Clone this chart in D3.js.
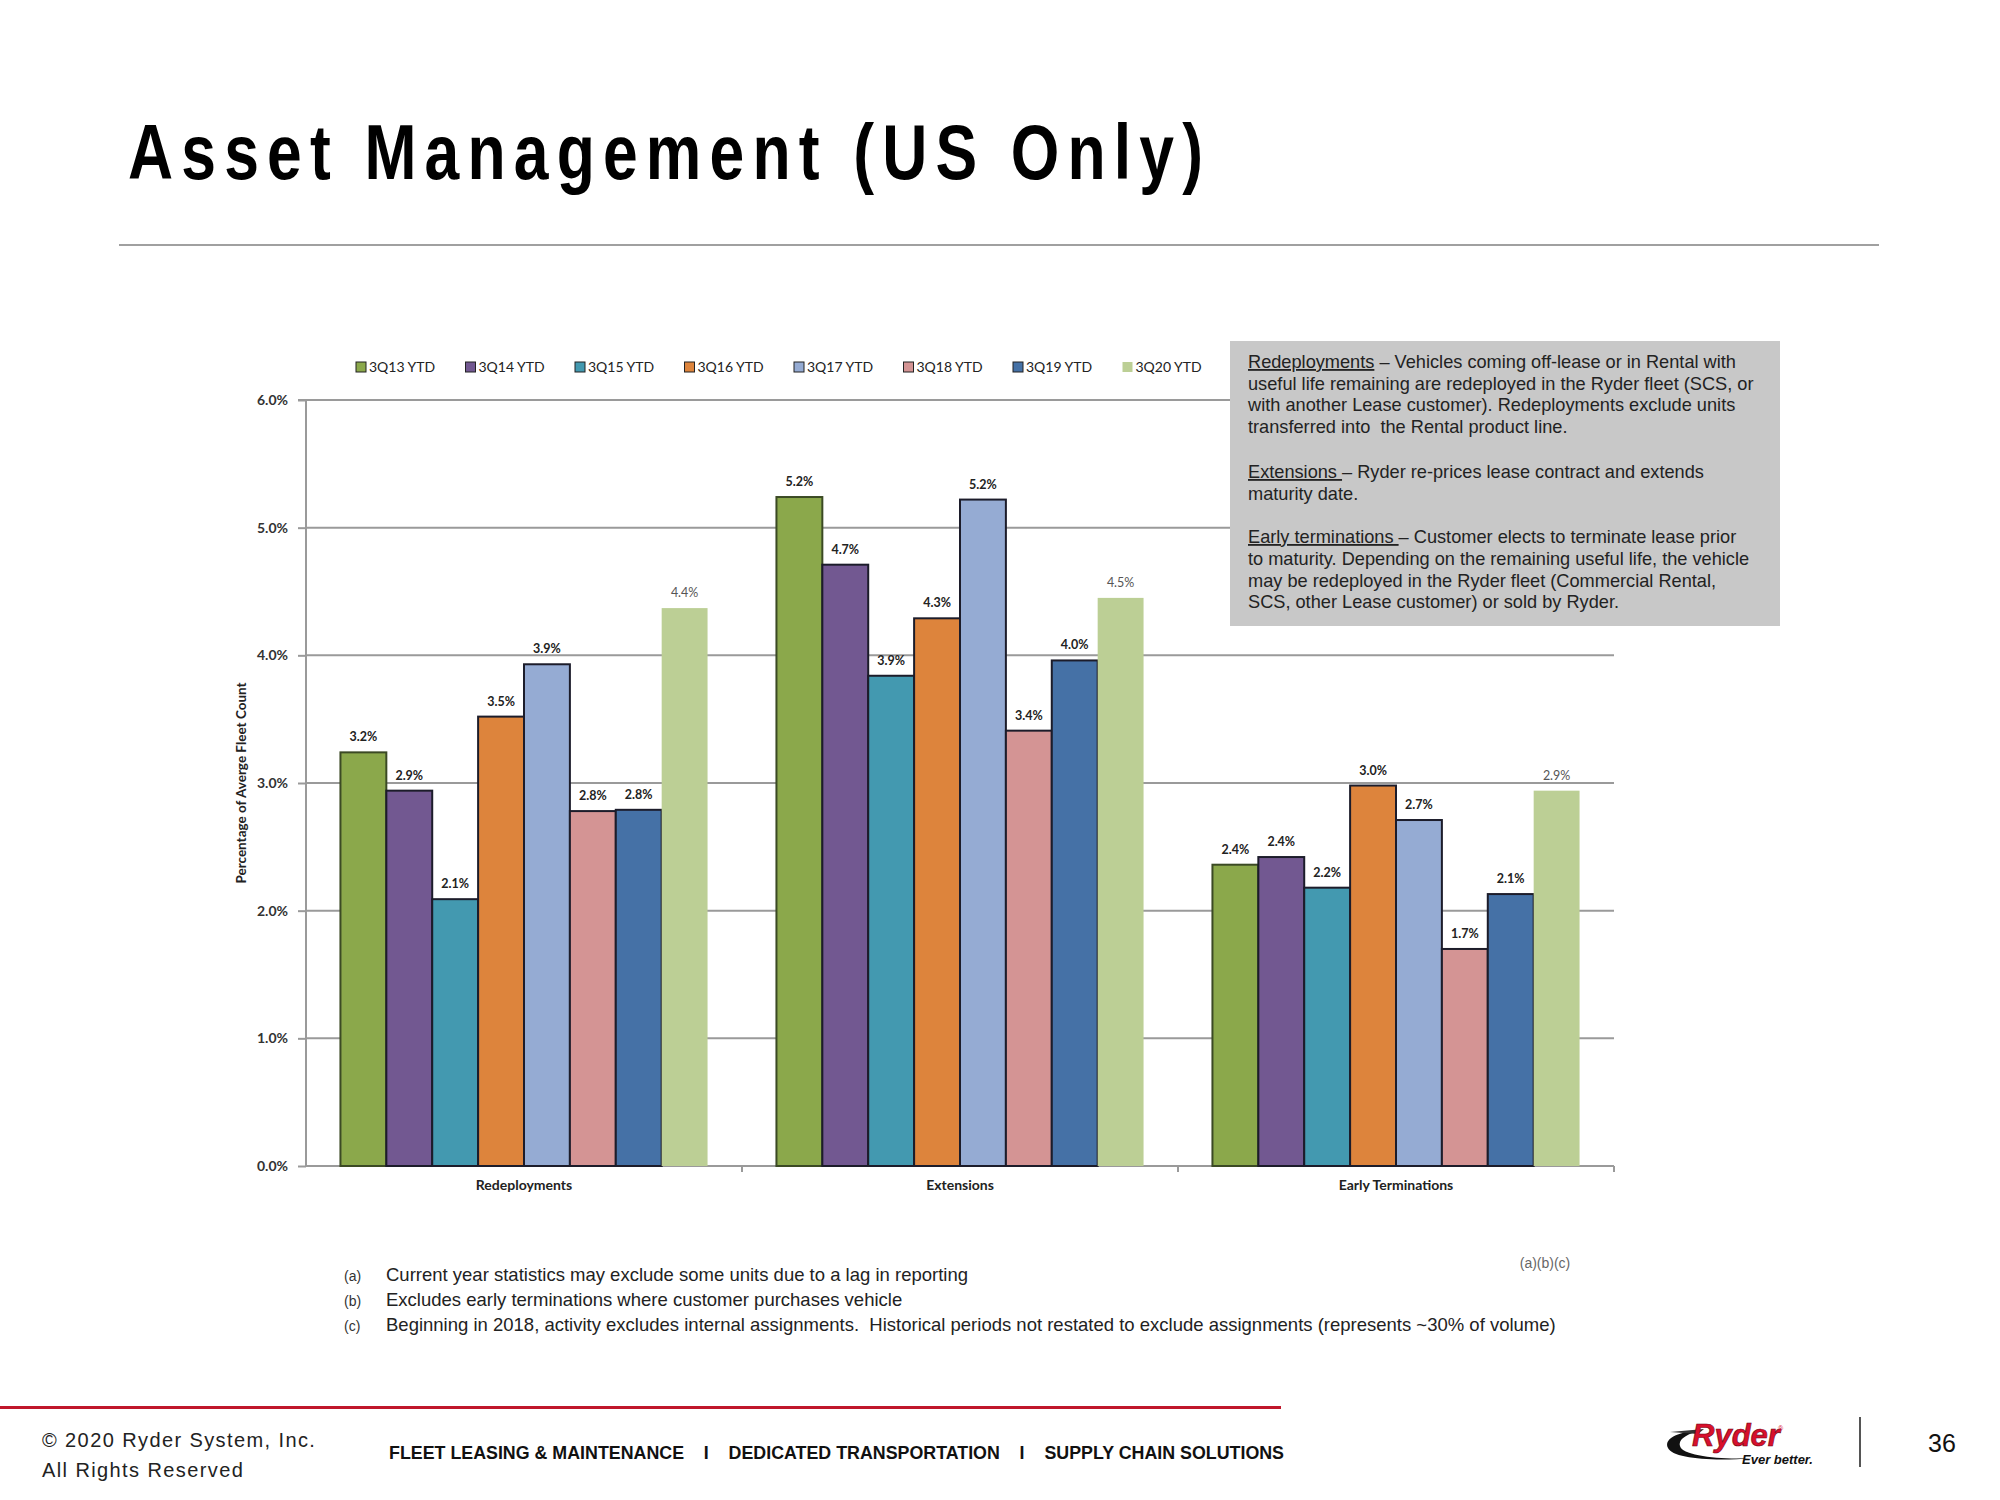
<!DOCTYPE html>
<html>
<head>
<meta charset="utf-8">
<script src="https://cdn.jsdelivr.net/npm/d3@7"></script>
<style>
  html, body { margin: 0; padding: 0; background: #fff; }
  svg { display: block; }
</style>
</head>
<body>
<svg id="chart" width="2000" height="1500"></svg>
<script>
// ---------- DATA ----------
const categories = ["Redeployments", "Extensions", "Early Terminations"];
const seriesNames = ["3Q13 YTD", "3Q14 YTD", "3Q15 YTD", "3Q16 YTD", "3Q17 YTD", "3Q18 YTD", "3Q19 YTD", "3Q20 YTD"];
const seriesColors = ["#8ba84b", "#725891", "#4399b0", "#dd843c", "#95abd3", "#d49494", "#4571a6", "#bccf95"];
// values (%) per series, in category order
const v3Q13 = [3.24, 5.24, 2.36];
const v3Q14 = [2.94, 4.71, 2.42];
const v3Q15 = [2.09, 3.84, 2.18];
const v3Q16 = [3.52, 4.29, 2.98];
const v3Q17 = [3.93, 5.22, 2.71];
const v3Q18 = [2.78, 3.41, 1.70];
const v3Q19 = [2.79, 3.96, 2.13];
const v3Q20 = [4.37, 4.45, 2.94];
// printed data labels
const lab3Q13 = ["3.2%", "5.2%", "2.4%"];
const lab3Q14 = ["2.9%", "4.7%", "2.4%"];
const lab3Q15 = ["2.1%", "3.9%", "2.2%"];
const lab3Q16 = ["3.5%", "4.3%", "3.0%"];
const lab3Q17 = ["3.9%", "5.2%", "2.7%"];
const lab3Q18 = ["2.8%", "3.4%", "1.7%"];
const lab3Q19 = ["2.8%", "4.0%", "2.1%"];
const lab3Q20 = ["4.4%", "4.5%", "2.9%"];
const yTicks = [0, 1, 2, 3, 4, 5, 6];

const allValues = [v3Q13, v3Q14, v3Q15, v3Q16, v3Q17, v3Q18, v3Q19, v3Q20];
const allLabels = [lab3Q13, lab3Q14, lab3Q15, lab3Q16, lab3Q17, lab3Q18, lab3Q19, lab3Q20];

const infoLines = [
  [["Redeployments", true], [" \u2013 Vehicles coming off-lease or in Rental with", false]],
  [["useful life remaining are redeployed in the Ryder fleet (SCS, or", false]],
  [["with another Lease customer). Redeployments exclude units", false]],
  [["transferred into  the Rental product line.", false]],
  null,
  [["Extensions ", true], ["\u2013 Ryder re-prices lease contract and extends", false]],
  [["maturity date.", false]],
  null,
  [["Early terminations ", true], ["\u2013 Customer elects to terminate lease prior", false]],
  [["to maturity. Depending on the remaining useful life, the vehicle", false]],
  [["may be redeployed in the Ryder fleet (Commercial Rental,", false]],
  [["SCS, other Lease customer) or sold by Ryder.", false]]
];
const footnoteKeys = ["(a)", "(b)", "(c)"];
const footnotes = [
  "Current year statistics may exclude some units due to a lag in reporting",
  "Excludes early terminations where customer purchases vehicle",
  "Beginning in 2018, activity excludes internal assignments.  Historical periods not restated to exclude assignments (represents ~30% of volume)"
];

// ---------- DRAW ----------
const svg = d3.select("#chart");
const chartFont = "Lato, 'Open Sans', sans-serif";
const arial = "'Liberation Sans', Arial, sans-serif";

// Title (condensed, letter-spaced)
svg.append("text")
  .attr("transform", "translate(128,179) scale(0.8,1)")
  .attr("x", 0).attr("y", 0)
  .attr("font-family", "'Liberation Sans', Arial, sans-serif")
  .attr("font-weight", "bold").attr("font-size", 78)
  .attr("textLength", 1075 / 0.8).attr("lengthAdjust", "spacing")
  .attr("fill", "#000")
  .text("Asset Management (US Only)");
svg.append("line").attr("x1", 119).attr("x2", 1879).attr("y1", 245).attr("y2", 245)
  .attr("stroke", "#a0a0a0").attr("stroke-width", 2);

// Scales
const plotL = 306, plotR = 1614, plotT = 400, plotB = 1166;
const x0 = d3.scaleBand().domain(categories).range([plotL, plotR]).paddingInner(0.158).paddingOuter(0.079);
const x1 = d3.scaleBand().domain(seriesNames).range([0, x0.bandwidth()]).padding(0);
const y = d3.scaleLinear().domain([0, 6]).range([plotB, plotT]);

// Gridlines
svg.append("g").selectAll("line").data(yTicks.filter(d => d > 0)).join("line")
  .attr("x1", plotL).attr("x2", plotR)
  .attr("y1", d => y(d)).attr("y2", d => y(d))
  .attr("stroke", "#9a9a9a").attr("stroke-width", 2);

// Y axis
const yAxis = d3.axisLeft(y).tickValues(yTicks).tickFormat(d => d.toFixed(1) + "%").tickSize(8).tickPadding(10);
const gy = svg.append("g").attr("transform", `translate(${plotL},0)`).call(yAxis);
gy.select(".domain").attr("stroke", "#9a9a9a").attr("stroke-width", 2).attr("d", `M-8,${plotT}H0V${plotB}`);
gy.selectAll(".tick line").attr("stroke", "#9a9a9a").attr("stroke-width", 2);
gy.selectAll(".tick text").attr("font-family", chartFont).attr("font-weight", "bold")
  .attr("font-size", 14).attr("fill", "#333");

// X axis
const xAxis = d3.axisBottom(x0).tickSize(0).tickPadding(14);
const gx = svg.append("g").attr("transform", `translate(0,${plotB})`).call(xAxis);
gx.select(".domain").attr("stroke", "#9a9a9a").attr("stroke-width", 2).attr("d", `M${plotL},0H${plotR}`);
gx.selectAll(".tick text").attr("font-family", chartFont).attr("font-weight", "bold")
  .attr("font-size", 14).attr("fill", "#222");
// category separator ticks
const seps = categories.map(c => x0(c) + x0.bandwidth() + x0.step() * x0.paddingInner() / 2);
svg.append("g").selectAll("line").data(seps).join("line")
  .attr("x1", d => d).attr("x2", d => d).attr("y1", plotB).attr("y2", plotB + 6)
  .attr("stroke", "#9a9a9a").attr("stroke-width", 2);

// Axis title
svg.append("text")
  .attr("transform", `translate(246,${(plotT + plotB) / 2 + 0}) rotate(-90)`)
  .attr("text-anchor", "middle")
  .attr("font-family", chartFont).attr("font-weight", "bold").attr("font-size", 13.5).attr("fill", "#222")
  .text("Percentage of Averge Fleet Count");

// Bars
const barData = [];
seriesNames.forEach((s, si) => {
  categories.forEach((c, ci) => {
    barData.push({ s, si, c, v: allValues[si][ci], label: allLabels[si][ci] });
  });
});
svg.append("g").selectAll("rect").data(barData).join("rect")
  .attr("x", d => x0(d.c) + x1(d.s))
  .attr("y", d => y(d.v))
  .attr("width", x1.bandwidth())
  .attr("height", d => y(0) - y(d.v))
  .attr("fill", d => seriesColors[d.si])
  .attr("stroke", d => d.si === 7 ? "none" : (d.si === 0 ? "#3b4a24" : "#1c1c2a"))
  .attr("stroke-width", 2);

// Data labels
svg.append("g").selectAll("text").data(barData).join("text")
  .attr("x", d => x0(d.c) + x1(d.s) + x1.bandwidth() / 2)
  .attr("y", d => y(d.v) - 11)
  .attr("text-anchor", "middle")
  .attr("font-family", chartFont)
  .attr("font-weight", d => d.si === 7 ? "normal" : "bold")
  .attr("font-size", 12.5)
  .attr("fill", d => d.si === 7 ? "#555" : "#222")
  .text(d => d.label);

// Legend
const legendX0 = 356, legendStep = 109.5, legendY = 367;
const lg = svg.append("g").selectAll("g").data(seriesNames).join("g")
  .attr("transform", (d, i) => `translate(${legendX0 + i * legendStep},${legendY})`);
lg.append("rect").attr("x", 0).attr("y", -5).attr("width", 10).attr("height", 10)
  .attr("fill", (d, i) => seriesColors[i])
  .attr("stroke", (d, i) => i === 7 ? "none" : "#222").attr("stroke-width", 1);
lg.append("text").attr("x", 13).attr("y", 5)
  .attr("font-family", chartFont).attr("font-size", 14).attr("fill", "#222")
  .text(d => d);

// Info box
svg.append("rect").attr("x", 1230).attr("y", 341).attr("width", 550).attr("height", 285).attr("fill", "#c8c8c8");
const infoBase = [368, 390, 411, 433, null, 478, 500, null, 543, 565, 587, 608];
infoLines.forEach((ln, i) => {
  if (!ln) return;
  const t = svg.append("text").attr("x", 1248).attr("y", infoBase[i])
    .attr("font-family", arial).attr("font-size", 18.2).attr("fill", "#222")
    .attr("xml:space", "preserve");
  ln.forEach(([txt, u]) => {
    const sp = t.append("tspan").text(txt);
    if (u) sp.style("text-decoration", "underline");
  });
});

// Footnotes
svg.append("text").attr("x", 1545).attr("y", 1268).attr("text-anchor", "middle")
  .attr("font-family", arial).attr("font-size", 14).attr("fill", "#666").text("(a)(b)(c)");
const fnY = [1281, 1306, 1331];
footnotes.forEach((f, i) => {
  svg.append("text").attr("x", 344).attr("y", fnY[i])
    .attr("font-family", arial).attr("font-size", 14).attr("fill", "#333").text(footnoteKeys[i]);
  svg.append("text").attr("x", 386).attr("y", fnY[i])
    .attr("font-family", arial).attr("font-size", 18.5).attr("fill", "#222")
    .attr("xml:space", "preserve").text(f);
});

// Footer
svg.append("rect").attr("x", 0).attr("y", 1406).attr("width", 1281).attr("height", 3).attr("fill", "#c0172b");
svg.append("text").attr("x", 42).attr("y", 1447)
  .attr("font-family", arial).attr("font-size", 20).attr("letter-spacing", 1.4).attr("fill", "#222")
  .text("\u00A9 2020 Ryder System, Inc.");
svg.append("text").attr("x", 42).attr("y", 1477)
  .attr("font-family", arial).attr("font-size", 20).attr("letter-spacing", 1.4).attr("fill", "#222")
  .text("All Rights Reserved");
svg.append("text").attr("x", 389).attr("y", 1459)
  .attr("font-family", arial).attr("font-weight", "bold").attr("font-size", 19)
  .attr("textLength", 895).attr("lengthAdjust", "spacingAndGlyphs").attr("fill", "#111")
  .attr("xml:space", "preserve")
  .text("FLEET LEASING & MAINTENANCE    I    DEDICATED TRANSPORTATION    I    SUPPLY CHAIN SOLUTIONS");

// Logo
const logo = svg.append("g").attr("transform", "translate(1662,1418)");
logo.append("path").attr("d", "M40,12 C12,14 2,22 6,30 C10,40 50,44 90,40 C60,42 20,38 18,28 C16,20 28,15 40,12 Z")
  .attr("fill", "#111");
logo.append("path").attr("d", "M8,14 L42,11 L36,16 Z").attr("fill", "#333");
logo.append("text").attr("x", 30).attr("y", 28)
  .attr("font-family", arial).attr("font-weight", "bold").attr("font-style", "italic").attr("font-size", 31)
  .attr("fill", "#d8102c").attr("stroke", "#6a0010").attr("stroke-width", 0.6)
  .text("Ryder");
logo.append("text").attr("x", 116).attr("y", 13).attr("font-family", arial).attr("font-size", 7).attr("fill", "#d8102c").text("\u00AE");
logo.append("text").attr("x", 80).attr("y", 46)
  .attr("font-family", arial).attr("font-weight", "bold").attr("font-style", "italic").attr("font-size", 13)
  .attr("fill", "#111").text("Ever better.");
svg.append("line").attr("x1", 1860).attr("x2", 1860).attr("y1", 1417).attr("y2", 1467)
  .attr("stroke", "#555").attr("stroke-width", 2);
svg.append("text").attr("x", 1942).attr("y", 1452).attr("text-anchor", "middle")
  .attr("font-family", arial).attr("font-size", 25).attr("fill", "#111").text("36");
</script>
</body>
</html>
